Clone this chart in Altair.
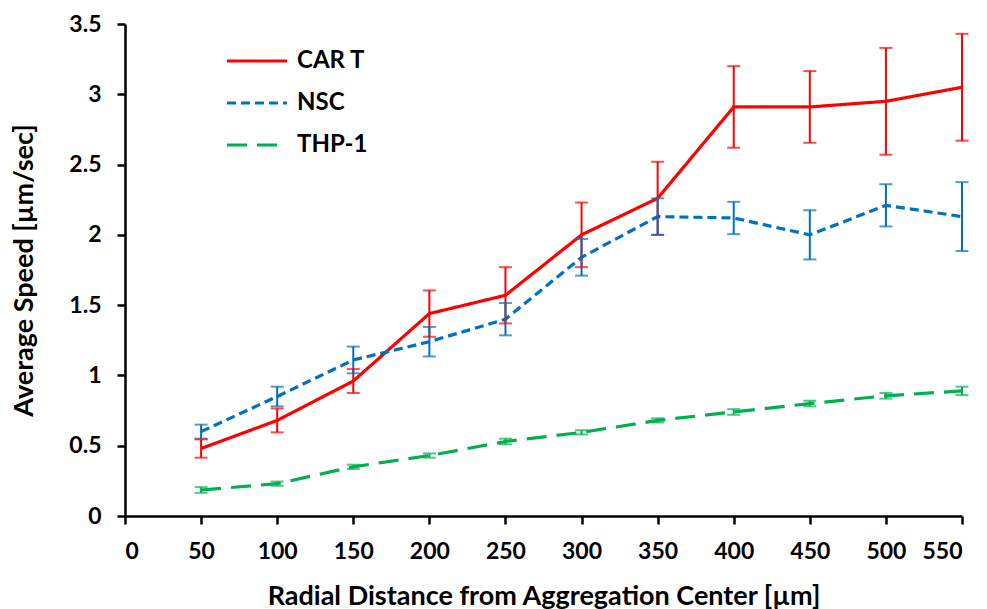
import altair as alt
import pandas as pd

distance = [50, 100, 150, 200, 250, 300, 350, 400, 450, 500, 550]
series_names = ["CAR T", "NSC", "THP-1"]
car_t = [0.48, 0.68, 0.96, 1.44, 1.57, 2.00, 2.26, 2.91, 2.91, 2.95, 3.05]
car_t_err = [0.065, 0.085, 0.085, 0.165, 0.20, 0.23, 0.26, 0.29, 0.255, 0.38, 0.38]
nsc = [0.60, 0.85, 1.11, 1.24, 1.40, 1.84, 2.13, 2.12, 2.00, 2.21, 2.13]
nsc_err = [0.05, 0.07, 0.095, 0.105, 0.115, 0.13, 0.13, 0.115, 0.175, 0.15, 0.245]
thp1 = [0.185, 0.23, 0.35, 0.43, 0.53, 0.595, 0.68, 0.74, 0.80, 0.855, 0.89]
thp1_err = [0.02, 0.015, 0.015, 0.015, 0.02, 0.015, 0.015, 0.02, 0.02, 0.02, 0.03]
x_ticks = list(range(0, 551, 50))
y_ticks = [0, 0.5, 1, 1.5, 2, 2.5, 3, 3.5]
colors = ["#FF0000", "#0070C0", "#00B050"]
dashes = [[1, 0], [9, 5], [20, 10]]

rows = []
for name, vals, errs in [("CAR T", car_t, car_t_err), ("NSC", nsc, nsc_err), ("THP-1", thp1, thp1_err)]:
    for d, v, e in zip(distance, vals, errs):
        rows.append({"series": name, "distance": d, "speed": v, "lo": v - e, "hi": v + e})
df = pd.DataFrame(rows)

FONT = "Lato"

xenc = alt.X("distance:Q",
             scale=alt.Scale(domain=[0, 550], nice=False, zero=True),
             axis=alt.Axis(values=x_ticks, title="Radial Distance from Aggregation Center [µm]",
                           grid=False, labelPadding=16, titlePadding=20, format="d"))
yscale = alt.Scale(domain=[0, 3.5], nice=False)
yaxis = alt.Axis(values=y_ticks, title="Average Speed [µm/sec]", grid=False, format="~g",
                 labelPadding=16, titlePadding=30)

color_scale = alt.Scale(domain=series_names, range=colors)
dash_scale = alt.Scale(domain=series_names, range=dashes)
legend = alt.Legend(orient="none", legendX=115, legendY=20)

base = alt.Chart(df)

lines = base.mark_line(strokeWidth=3.2, strokeCap="butt").encode(
    x=xenc,
    y=alt.Y("speed:Q", scale=yscale, axis=yaxis),
    color=alt.Color("series:N", scale=color_scale, title=None, legend=legend),
    strokeDash=alt.StrokeDash("series:N", scale=dash_scale, title=None, legend=legend),
    detail="series:N",
)

err_rules = base.mark_rule(strokeWidth=2).encode(
    x="distance:Q",
    y=alt.Y("lo:Q", scale=yscale),
    y2="hi:Q",
    color=alt.Color("series:N", scale=color_scale, title=None, legend=legend),
)
caps_lo = base.mark_tick(orient="horizontal", size=13, thickness=2).encode(
    x="distance:Q",
    y=alt.Y("lo:Q", scale=yscale),
    color=alt.Color("series:N", scale=color_scale, title=None, legend=legend),
)
caps_hi = base.mark_tick(orient="horizontal", size=13, thickness=2).encode(
    x="distance:Q",
    y=alt.Y("hi:Q", scale=yscale),
    color=alt.Color("series:N", scale=color_scale, title=None, legend=legend),
)

chart = alt.layer(lines, err_rules, caps_lo, caps_hi).properties(
    width=837, height=492,
    autosize=alt.AutoSizeParams(type="none"),
    padding={"left": 125, "top": 24, "right": 25, "bottom": 93},
).configure_view(stroke=None).configure_axis(
    domainColor="#000000", domainWidth=2.5, tickColor="#000000", tickWidth=2.5, tickSize=8,
    labelFont=FONT, labelFontSize=23, labelFontWeight="bold", labelColor="#000000",
    titleFont=FONT, titleFontSize=27, titleFontWeight="bold", titleColor="#000000",
).configure_legend(
    labelFont=FONT, labelFontSize=24, labelFontWeight="bold", labelColor="#000000",
    symbolType="M-2,0H2", symbolSize=900, symbolStrokeWidth=3.2, symbolOpacity=1,
    rowPadding=13, labelOffset=23, padding=0,
)

chart.save("out.html", embed_options={"renderer": "svg", "actions": False})
